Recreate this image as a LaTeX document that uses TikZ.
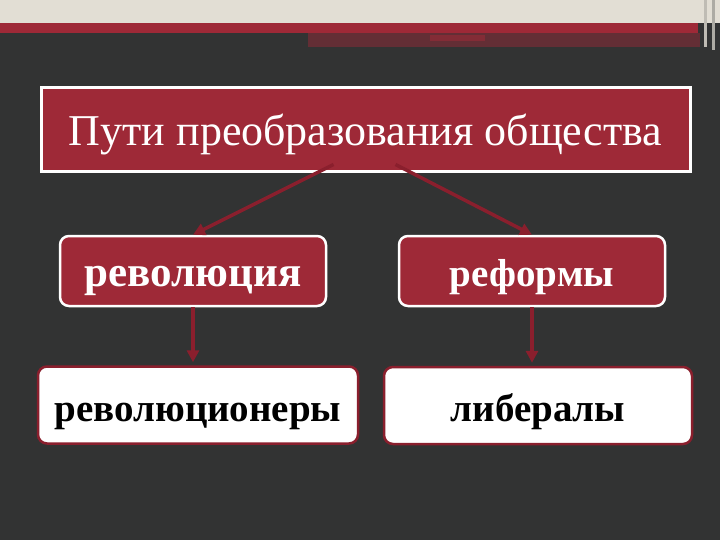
\documentclass[tikz,border=0pt]{standalone}
\usepackage{fontspec}
\setmainfont{Liberation Serif}
\usepackage{xcolor}
\usetikzlibrary{arrows.meta}

\definecolor{slate}{HTML}{323333}
\definecolor{wine}{HTML}{9E2937}
\definecolor{darkwine}{HTML}{8A1F2D}
\definecolor{paper}{HTML}{E2DED4}

\begin{document}
\begin{tikzpicture}[x=1pt,y=-1pt,
  redbox/.style={draw=white,line width=2.5pt,fill=wine,text=white,rounded corners=9pt,
    minimum width=266pt,minimum height=70pt,text height=33pt,text depth=3pt,
    font=\fontsize{39}{42}\selectfont\bfseries},
  whitebox/.style={draw=darkwine,line width=2.5pt,fill=white,text=black,rounded corners=9pt,
    minimum height=77pt,text height=34pt,text depth=2pt,
    font=\fontsize{39}{42}\selectfont\bfseries},
  arr/.style={draw=darkwine,line width=3.5pt,-{Triangle[length=12pt,width=12pt]}}]
\useasboundingbox (0,0) rectangle (720,540);
\fill[slate] (0,0) rectangle (720,540);

% top strip
\fill[paper] (0,0) rectangle (720,23);
\fill[wine] (0,23) rectangle (698,33);
\fill[wine!45!slate] (308,33) rectangle (700,47);
\fill[wine!75!slate] (430,35) rectangle (485,41);
\fill[paper!80!slate] (704,0) rectangle (707,47);
\fill[paper!70!slate] (712,0) rectangle (715,50);

% boxes
\node[draw=white,line width=3pt,fill=wine,text=white,minimum width=649pt,minimum height=84pt,
  text height=36pt,text depth=4pt,font=\fontsize{44}{46}\selectfont] (title) at (365.5,130)
  {Пути преобразования общества};

\node[redbox,font=\fontsize{43}{46}\selectfont\bfseries] (rev) at (193,271) {революция};
\node[redbox] (ref) at (532,271) {реформы};

\node[whitebox,minimum width=320pt] (revs) at (198,405) {революционеры};
\node[whitebox,minimum width=308pt] (libs) at (538,405.5) {либералы};

% arrows
\draw[arr] ([xshift=-32pt,yshift=9pt]title.south) -- (rev.north);
\draw[arr] ([xshift=30pt,yshift=9pt]title.south) -- (ref.north);
\draw[arr,shorten >=3pt] (rev.south) -- (revs.north -| rev.south);
\draw[arr,shorten >=3pt] (ref.south) -- (libs.north -| ref.south);
\end{tikzpicture}
\end{document}
